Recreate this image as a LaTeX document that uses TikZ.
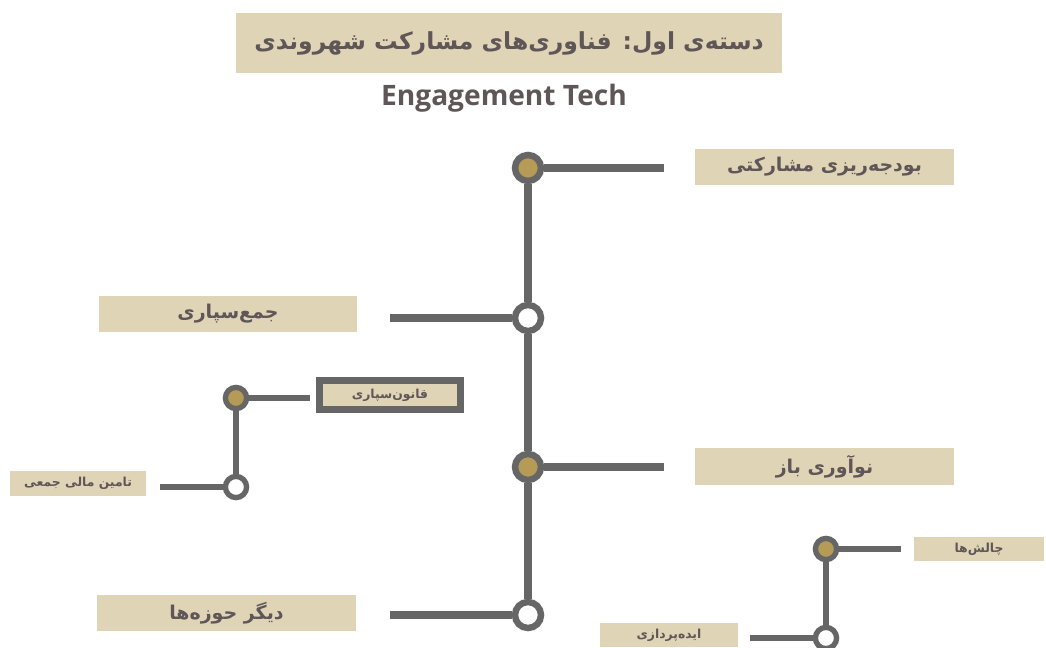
\documentclass[tikz,border=0pt]{standalone}
\usepackage{fontspec}
\setsansfont{Open Sans}
\newfontfamily\fafont[Script=Arabic]{DejaVu Sans}
\TeXXeTstate=1
\usepackage{tikz}
\usetikzlibrary{positioning}
\definecolor{tanbox}{HTML}{E0D4B6}
\definecolor{inkgray}{HTML}{5F5658}
\definecolor{linegray}{HTML}{666666}
\definecolor{goldfill}{HTML}{B59B55}
\tikzset{
  mainbox/.style={fill=tanbox, text=inkgray, minimum width=6.45cm, minimum height=0.9cm, inner sep=0pt, font=\fafont\bfseries\fontsize{13.5}{15}\selectfont},
  smallbox/.style={fill=tanbox, text=inkgray, minimum width=3.4cm, minimum height=0.6cm, inner sep=0pt, font=\fafont\bfseries\fontsize{8.8}{10}\selectfont},
  bigdot/.style={circle, draw=linegray, line width=4.6pt, minimum size=0.65cm, inner sep=0pt},
  smalldot/.style={circle, draw=linegray, line width=3.8pt, minimum size=0.53cm, inner sep=0pt},
  trunk/.style={draw=linegray, line width=5.7pt},
  twig/.style={draw=linegray, line width=4.3pt},
}
\begin{document}
\begin{tikzpicture}[x=0.025cm, y=-0.025cm]
\useasboundingbox (0,0) rectangle (1046,648);
% title
\node[fill=tanbox, text=inkgray, minimum width=13.65cm, minimum height=1.5cm, inner sep=0pt,
      font=\fafont\bfseries\fontsize{16.7}{20}\selectfont] (title) at (509,43)
  {\beginR دسته‌ی اول: فناوری‌های مشارکت شهروندی\endR};
\node[text=inkgray, font=\sffamily\bfseries\fontsize{20}{24}\selectfont] (sub) at (504,98) {Engagement Tech};

% main branch
\node[bigdot, fill=goldfill] (m1) at (528,168) {};
\node[bigdot, fill=white] (m2) at (528,318) {};
\node[bigdot, fill=goldfill] (m3) at (528,467) {};
\node[bigdot, fill=white] (m4) at (528,615) {};
\draw[trunk] (m1) -- (m2);
\draw[trunk] (m2) -- (m3);
\draw[trunk] (m3) -- (m4);

\node[mainbox] (budget) at (824.5,167) {\beginR بودجه‌ریزی مشارکتی\endR};
\node[mainbox] (crowd) at (228,314) {\beginR جمع‌سپاری\endR};
\node[mainbox] (openinno) at (824.5,466.5) {\beginR نوآوری باز\endR};
\node[mainbox] (other) at (226.5,613) {\beginR دیگر حوزه‌ها\endR};

\coordinate (e1) at (664,168);
\coordinate (e2) at (390,318);
\coordinate (e3) at (664,467);
\coordinate (e4) at (390,615);
\draw[trunk] (m1) -- (e1);
\draw[trunk] (m2) -- (e2);
\draw[trunk] (m3) -- (e3);
\draw[trunk] (m4) -- (e4);

% left sub branch
\node[smalldot, fill=goldfill] (l1) at (236,398) {};
\node[smalldot, fill=white] (l2) at (236,487) {};
\draw[twig] (l1) -- (l2);
\node[smallbox, minimum width=3.52cm, minimum height=0.72cm, draw=linegray, line width=5pt] (lawbox) at (390,395) {\beginR قانون‌سپاری\endR};
\node[smallbox] (fundbox) at (78,483.5) {\beginR تامین مالی جمعی\endR};
\coordinate (le1) at (310,398);
\coordinate (le2) at (160,487);
\draw[twig] (l1) -- (le1);
\draw[twig] (l2) -- (le2);

% right sub branch
\node[smalldot, fill=goldfill] (r1) at (826,549) {};
\node[smalldot, fill=white] (r2) at (826,638) {};
\draw[twig] (r1) -- (r2);
\node[smallbox, minimum width=3.25cm] (chalbox) at (979,549) {\beginR چالش‌ها\endR};
\node[smallbox, minimum width=3.45cm] (ideabox) at (669,635) {\beginR ایده‌پردازی\endR};
\coordinate (re1) at (901,549);
\coordinate (re2) at (750,638);
\draw[twig] (r1) -- (re1);
\draw[twig] (r2) -- (re2);
\end{tikzpicture}
\end{document}
